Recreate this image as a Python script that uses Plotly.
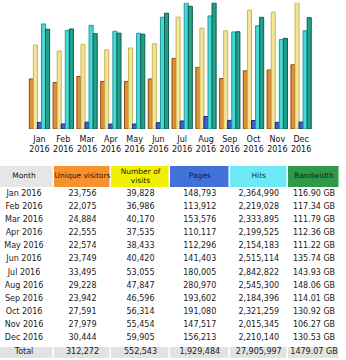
import plotly.graph_objects as go

months = ["Jan 2016", "Feb 2016", "Mar 2016", "Apr 2016", "May 2016", "Jun 2016",
          "Jul 2016", "Aug 2016", "Sep 2016", "Oct 2016", "Nov 2016", "Dec 2016"]
tick_labels = ["Jan<br>2016", "Feb<br>2016", "Mar<br>2016", "Apr<br>2016", "May<br>2016", "Jun<br>2016",
               "Jul<br>2016", "Aug<br>2016", "Sep<br>2016", "Oct<br>2016", "Nov<br>2016", "Dec<br>2016"]
unique_visitors = [23756, 22075, 24884, 22555, 22574, 23749, 33495, 29228, 23942, 27591, 27979, 30444]
visits = [39828, 36986, 40170, 37535, 38433, 40420, 53055, 47847, 46596, 56314, 55454, 59905]
pages = [148793, 113912, 153576, 110117, 112296, 141403, 180005, 280970, 193602, 191080, 147517, 156213]
hits = [2364990, 2219028, 2333895, 2199525, 2154183, 2515114, 2842822, 2545300, 2184396, 2321259, 2015345, 2210140]
bandwidth_gb = [116.90, 117.34, 111.79, 112.36, 111.22, 135.74, 143.93, 148.06, 114.01, 130.92, 106.27, 130.53]
header_labels = ["Month", "Unique\u00a0visitors", "Number of<br>visits", "Pages", "Hits", "Bandwidth"]

FONT = "DejaVu Sans"
W, H = 346, 360
xs = list(range(len(months)))
bw = 0.171
start = -0.428

series = [
    ("Unique visitors", unique_visitors, "y", "#DE9138", "#8A4A12"),
    ("Number of visits", visits, "y", "#F3E49A", "#C9B45A"),
    ("Pages", pages, "y2", "#3A62CC", "#14267E"),
    ("Hits", hits, "y2", "#48D8D8", "#1E9C9C"),
    ("Bandwidth", bandwidth_gb, "y3", "#22A08A", "#0E5E4E"),
]

fig = go.Figure()
for i, (name, vals, ax, fill, edge) in enumerate(series):
    fig.add_trace(go.Bar(
        x=xs, y=vals, yaxis=ax, xaxis="x", name=name,
        width=bw, offset=start + i * bw,
        marker=dict(color=fill, line=dict(color=edge, width=1)),
        showlegend=False, hoverinfo="skip",
    ))

# ---------------- table (drawn on its own pixel-unit axes) ----------------
TABLE_TOP = 166
col_edges = [-6, 54, 111, 170, 229.5, 288, 340]
col_centers = [(col_edges[i] + col_edges[i + 1]) / 2 for i in range(6)]
HEADER_H = 21
ROW0 = 28
ROW_H = 13.09
TOTAL_Y = 186

header_fills = ["#E6E6E6", "#F7922E", "#F0F000", "#4272D8", "#6CE8F6", "#2E9A48"]
header_font_colors = ["#111111", "#2a1a08", "#222200", "#101c4a", "#103a40", "#0a2a10"]
total_fill = "#E2E2E2"

def fmt(n):
    return f"{n:,}"

col_month = months + ["Total"]
col_u = [fmt(v) for v in unique_visitors] + [fmt(sum(unique_visitors))]
col_v = [fmt(v) for v in visits] + [fmt(sum(visits))]
col_p = [fmt(v) for v in pages] + [fmt(sum(pages))]
col_h = [fmt(v) for v in hits] + [fmt(sum(hits))]
col_b = [f"{v:.2f} GB" for v in bandwidth_gb] + [f"{sum(bandwidth_gb):.2f} GB"]
columns = [col_month, col_u, col_v, col_p, col_h, col_b]

palette = header_fills + [total_fill]
n = len(palette)
colorscale = []
for k, c in enumerate(palette):
    colorscale.append([k / n, c])
    colorscale.append([(k + 1) / n, c])
z = [
    list(range(6)),
    [None] * 6,
    [6] * 6,
]
fig.add_trace(go.Heatmap(
    x=col_edges, y=[0, HEADER_H, TOTAL_Y - 5.5, TOTAL_Y + 5.5],
    z=z, zmin=-0.5, zmax=n - 0.5, colorscale=colorscale, showscale=False,
    xgap=1.5, ygap=0, hoverinfo="skip", xaxis="x2", yaxis="y4",
))

fig.add_trace(go.Scatter(
    x=col_centers, y=[HEADER_H / 2] * 6, mode="text",
    text=header_labels, textposition="middle center",
    textfont=dict(family=FONT, size=7.5, color=header_font_colors),
    xaxis="x2", yaxis="y4", showlegend=False, hoverinfo="skip", cliponaxis=False,
))

row_y = [ROW0 + i * ROW_H for i in range(len(months))] + [TOTAL_Y]
for j, col in enumerate(columns):
    fig.add_trace(go.Scatter(
        x=[col_centers[j]] * len(col), y=row_y, mode="text", text=col,
        textposition="middle center",
        textfont=dict(family=FONT, size=8, color="#1a1a1a"),
        xaxis="x2", yaxis="y4", showlegend=False, hoverinfo="skip", cliponaxis=False,
    ))

dom_y = [(H - 129) / H, (H - 2.7) / H]
fig.update_layout(
    width=W, height=H,
    margin=dict(l=0, r=0, t=0, b=0),
    paper_bgcolor="white", plot_bgcolor="white",
    barmode="overlay",
    font=dict(family=FONT, size=8, color="#111111"),
    xaxis=dict(domain=[27.6 / W, 313 / W], range=[-0.5, 11.5], anchor="y",
               tickmode="array", tickvals=xs, ticktext=tick_labels,
               showgrid=False, zeroline=False, showline=False,
               ticks="outside", ticklen=2, tickcolor="rgba(0,0,0,0)",
               tickfont=dict(family=FONT, size=8, color="#111111"), fixedrange=True),
    yaxis=dict(domain=dom_y, range=[0, max(visits)], visible=False, fixedrange=True),
    yaxis2=dict(domain=dom_y, range=[0, max(hits)], overlaying="y", visible=False, fixedrange=True),
    yaxis3=dict(domain=dom_y, range=[0, max(bandwidth_gb)], overlaying="y", visible=False, fixedrange=True),
    xaxis2=dict(domain=[0, 1], range=[0, W], visible=False, anchor="y4", fixedrange=True),
    yaxis4=dict(domain=[0, (H - TABLE_TOP) / H], range=[H - TABLE_TOP, 0], visible=False,
                anchor="x2", fixedrange=True),
)

fig.write_html("out.html")
